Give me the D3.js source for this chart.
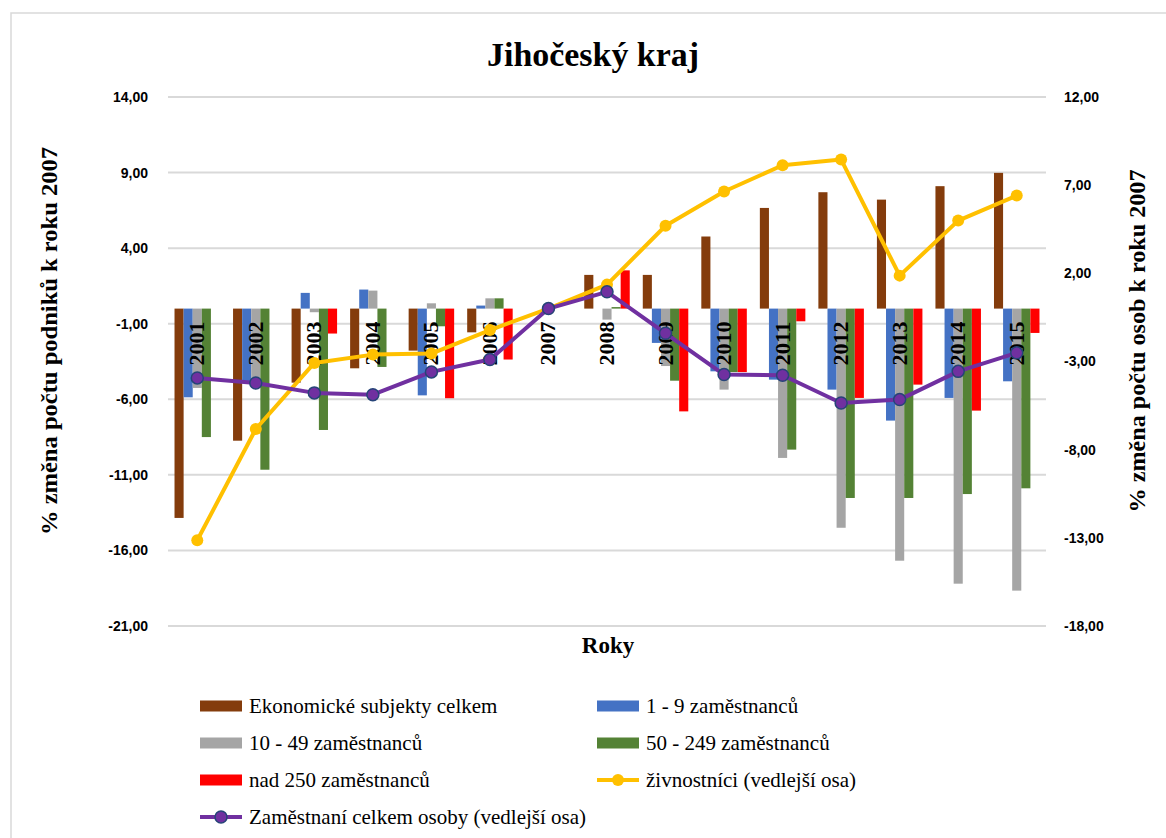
<!DOCTYPE html>
<html>
<head>
<meta charset="utf-8">
<script src="https://cdn.jsdelivr.net/npm/d3@7"></script>
<style>
  body { margin: 0; background: #fff; }
  svg { display: block; }
</style>
</head>
<body>
<svg id="chart"></svg>
<script>
// data
const years = ["2001","2002","2003","2004","2005","2006","2007","2008","2009","2010","2011","2012","2013","2014","2015"];
const celkem   = [-13.85,-8.74,-4.90,-3.95,-2.78,-1.57,0,2.23,2.23,4.77,6.66,7.70,7.21,8.10,8.98];
const mikro    = [-5.87,-4.80,1.04,1.26,-5.74,0.20,0,0,-2.27,-4.15,-4.70,-5.36,-7.41,-5.91,-4.81];
const male     = [-5.25,-4.60,-0.24,1.19,0.35,0.68,0,-0.73,-3.80,-5.36,-9.88,-14.50,-16.68,-18.20,-18.66];
const stredni  = [-8.50,-10.66,-8.03,-3.86,-1.17,0.68,0,0.10,-4.77,-4.20,-9.33,-12.53,-12.53,-12.27,-11.89];
const velke    = [0,0,-1.65,0,-5.93,-3.37,0,2.53,-6.80,-4.20,-0.84,-5.91,-5.03,-6.75,-1.61];
const zivnost  = [-13.14,-6.83,-3.08,-2.61,-2.55,-1.22,0,1.36,4.70,6.64,8.13,8.45,1.87,4.99,6.41];
const zamestn  = [-3.93,-4.22,-4.78,-4.88,-3.59,-2.89,0,0.95,-1.40,-3.74,-3.78,-5.35,-5.16,-3.56,-2.51];
const leftTicks  = [14,9,4,-1,-6,-11,-16,-21];
const rightTicks = [12,7,2,-3,-8,-13,-18];

const barSeries = [
    {name: "Ekonomické subjekty celkem", values: celkem, color: "#843C0C"},
    {name: "1 - 9 zaměstnanců", values: mikro, color: "#4472C4"},
    {name: "10 - 49 zaměstnanců", values: male, color: "#A5A5A5"},
    {name: "50 - 249 zaměstnanců", values: stredni, color: "#548235"},
    {name: "nad 250 zaměstnanců", values: velke, color: "#FF0000"}
];
const lineSeries = [
    {name: "živnostníci (vedlejší osa)", values: zivnost, color: "#FFC000", stroke: "none"},
    {name: "Zaměstnaní celkem osoby (vedlejší osa)", values: zamestn, color: "#7030A0", stroke: "#264478"}
];

const config = {width: 1166, height: 838, margin: {left: 168, right: 120, top: 97, bottom: 212}};
const serif = "Liberation Serif, Times New Roman, serif";
const sans = "Liberation Sans, Arial, sans-serif";

const svg = d3.select("#chart")
    .attr("width", config.width)
    .attr("height", config.height);

const x0 = config.margin.left, x1 = config.width - config.margin.right;
const y0 = config.margin.top, y1 = config.height - config.margin.bottom;

// frame
svg.append("rect")
    .attr("x", 11).attr("y", 13)
    .attr("width", 1160).attr("height", 840)
    .attr("fill", "none")
    .attr("stroke", "#d9d9d9")
    .attr("stroke-width", 1.5);

// scales
const xScale = d3.scaleBand().domain(years).range([x0, x1]);
const yLeft = d3.scaleLinear().domain([-21, 14]).range([y1, y0]);
const yRight = d3.scaleLinear().domain([-18, 12]).range([y1, y0]);
const barW = 9.1;
const groupW = barW * barSeries.length;

// gridlines
svg.append("g")
    .selectAll("line").data(leftTicks)
    .enter().append("line")
    .attr("x1", x0).attr("x2", x1)
    .attr("y1", d => yLeft(d)).attr("y2", d => yLeft(d))
    .attr("stroke", "#d9d9d9").attr("stroke-width", 2);

// axes (tick labels only)
const fmt = d => d3.format(".2f")(d).replace(".", ",").replace("−", "-");
const axisL = svg.append("g")
    .attr("transform", `translate(${x0 - 20},0)`)
    .call(d3.axisLeft(yLeft).tickValues(leftTicks).tickSize(0).tickPadding(0).tickFormat(fmt));
const axisR = svg.append("g")
    .attr("transform", `translate(${x1 + 18},0)`)
    .call(d3.axisRight(yRight).tickValues(rightTicks).tickSize(0).tickPadding(0).tickFormat(fmt));
[axisL, axisR].forEach(a => {
    a.select(".domain").remove();
    a.selectAll("text")
        .attr("font-family", sans)
        .attr("font-size", "14px")
        .attr("font-weight", "bold")
        .attr("fill", "#000");
});

// bars
barSeries.forEach((s, i) => {
    svg.append("g")
        .selectAll("rect").data(s.values)
        .enter().append("rect")
        .attr("x", (d, j) => xScale(years[j]) + xScale.bandwidth() / 2 - groupW / 2 + i * barW)
        .attr("y", d => yLeft(Math.max(0, d)))
        .attr("width", barW)
        .attr("height", d => Math.abs(yLeft(d) - yLeft(0)))
        .attr("fill", s.color);
});

// category labels at zero line
svg.append("g")
    .selectAll("text").data(years)
    .enter().append("text")
    .attr("transform", d => `translate(${xScale(d) + xScale.bandwidth() / 2 + 7},${yLeft(0) + 13}) rotate(-90)`)
    .attr("text-anchor", "end")
    .attr("font-family", serif)
    .attr("font-weight", "bold")
    .attr("font-size", "21px")
    .attr("textLength", 44)
    .attr("lengthAdjust", "spacingAndGlyphs")
    .attr("fill", "#000")
    .text(d => d);

// lines (secondary axis)
const cx = d => xScale(d) + xScale.bandwidth() / 2;
lineSeries.forEach(s => {
    const line = d3.line()
        .x((d, j) => cx(years[j]))
        .y(d => yRight(d));
    svg.append("path")
        .datum(s.values)
        .attr("d", line)
        .attr("fill", "none")
        .attr("stroke", s.color)
        .attr("stroke-width", 4)
        .attr("stroke-linejoin", "round");
    svg.append("g")
        .selectAll("circle").data(s.values)
        .enter().append("circle")
        .attr("cx", (d, j) => cx(years[j]))
        .attr("cy", d => yRight(d))
        .attr("r", 6)
        .attr("fill", s.color)
        .attr("stroke", s.stroke)
        .attr("stroke-width", 1.5);
});

// title
svg.append("text")
    .attr("x", 593).attr("y", 66)
    .attr("text-anchor", "middle")
    .attr("font-family", serif)
    .attr("font-weight", "bold")
    .attr("font-size", "33px")
    .attr("textLength", 212)
    .attr("lengthAdjust", "spacingAndGlyphs")
    .text("Jihočeský kraj");

// axis titles
svg.append("text")
    .attr("transform", `translate(57,341) rotate(-90)`)
    .attr("text-anchor", "middle")
    .attr("font-family", serif)
    .attr("font-weight", "bold")
    .attr("font-size", "23px")
    .attr("textLength", 388)
    .attr("lengthAdjust", "spacingAndGlyphs")
    .text("% změna počtu podniků k roku  2007");
svg.append("text")
    .attr("transform", `translate(1145,341) rotate(-90)`)
    .attr("text-anchor", "middle")
    .attr("font-family", serif)
    .attr("font-weight", "bold")
    .attr("font-size", "23px")
    .attr("textLength", 343)
    .attr("lengthAdjust", "spacingAndGlyphs")
    .text("% změna počtu osob k roku 2007");
svg.append("text")
    .attr("x", 608).attr("y", 653)
    .attr("text-anchor", "middle")
    .attr("font-family", serif)
    .attr("font-weight", "bold")
    .attr("font-size", "23px")
    .text("Roky");

// legend
const legendItems = barSeries.map(s => ({name: s.name, color: s.color, type: "bar"}))
    .concat(lineSeries.map(s => ({name: s.name, color: s.color, stroke: s.stroke, type: "line"})));
const legend = svg.append("g")
    .selectAll("g").data(legendItems)
    .enter().append("g")
    .attr("transform", (d, i) => `translate(${i % 2 === 0 ? 200 : 597},${706 + Math.floor(i / 2) * 37})`);
legend.filter(d => d.type === "bar").append("rect")
    .attr("x", 0).attr("y", -5.5)
    .attr("width", 42).attr("height", 11)
    .attr("fill", d => d.color);
legend.filter(d => d.type === "line").append("line")
    .attr("x1", 0).attr("x2", 42)
    .attr("stroke", d => d.color).attr("stroke-width", 4);
legend.filter(d => d.type === "line").append("circle")
    .attr("cx", 21).attr("r", 6)
    .attr("fill", d => d.color)
    .attr("stroke", d => d.stroke)
    .attr("stroke-width", 1.5);
legend.append("text")
    .attr("x", 49).attr("y", 7)
    .attr("font-family", serif)
    .attr("font-size", "21px")
    .attr("fill", "#000")
    .text(d => d.name);
</script>
</body>
</html>
